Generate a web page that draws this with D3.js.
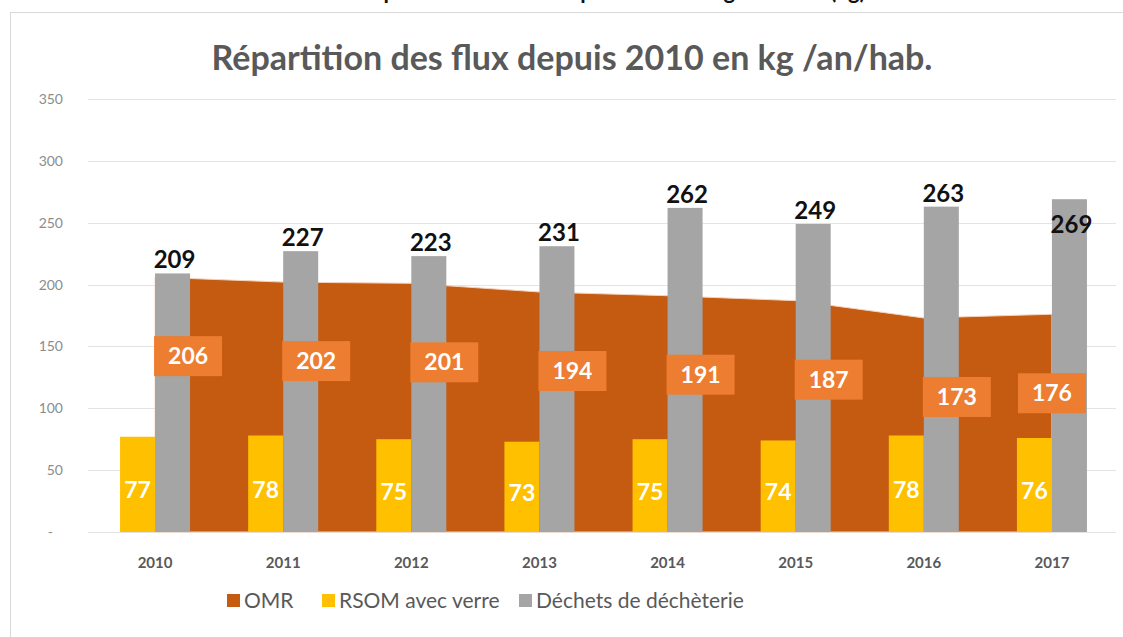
<!DOCTYPE html>
<html>
<head>
<meta charset="utf-8">
<script src="https://cdn.jsdelivr.net/npm/d3@7"></script>
<style>
  body { margin:0; background:#fff; }
  svg { display:block; font-family: Lato, "Open Sans", sans-serif; }
</style>
</head>
<body>
<script>
var years = ["2010","2011","2012","2013","2014","2015","2016","2017"];
var omr = [206,202,201,194,191,187,173,176];
var rsom = [77,78,75,73,75,74,78,76];
var decheterie = [209,227,223,231,262,249,263,269];
var yTicks = [0,50,100,150,200,250,300,350];
var legendNames = ["OMR","RSOM avec verre","Déchets de déchèterie"];

var colors = {omr:"#C55A11", rsom:"#FFC000", dech:"#A5A5A5", omrLabel:"#ED7D31"};

var width = 1123, height = 637;
var plot = {left:91, right:1116, top:99, bottom:532};

var svg = d3.select('body')
            .append('svg')
            .attr('width', width)
            .attr('height', height);

// heading above the chart, cut by the top edge as in the source
svg.append('text')
   .attr('x', 612).attr('y', -1)
   .attr('text-anchor','middle')
   .attr('font-size','22px')
   .attr('font-weight','bold')
   .attr('fill','#111')
   .text('Répartition des flux depuis 2010 en kg /an/hab. (kg)');

// chart frame
svg.append('rect')
   .attr('x',10.5).attr('y',12.5)
   .attr('width',1200).attr('height',700)
   .attr('fill','#fff')
   .attr('stroke','#d9d9d9');

svg.append('text')
   .attr('x', 572).attr('y', 70)
   .attr('text-anchor','middle')
   .attr('font-size','34px')
   .attr('font-weight','bold')
   .attr('fill','#595959')
   .text('Répartition des flux depuis 2010 en kg /an/hab.');

var x = d3.scaleBand()
          .domain(years)
          .range([plot.left, plot.right]);

var x1 = d3.scaleBand()
           .domain(["rsom","dech"])
           .range([0, x.bandwidth()])
           .paddingOuter(0.83);

var y = d3.scaleLinear()
          .domain([0,350])
          .range([plot.bottom, plot.top]);

var center = function(i){ return x(years[i]) + x.bandwidth()/2; };

// grid
svg.append('g')
   .selectAll('line')
   .data(yTicks)
   .enter()
   .append('line')
   .attr('x1', plot.left - 3).attr('x2', plot.right)
   .attr('y1', function(d){ return Math.round(y(d)) + 0.5; })
   .attr('y2', function(d){ return Math.round(y(d)) + 0.5; })
   .attr('stroke', '#e3e3e3');

// y axis labels
var yAxis = d3.axisLeft(y)
              .tickValues(yTicks)
              .tickSize(0)
              .tickPadding(0)
              .tickFormat(function(d){ return d === 0 ? '-' : d; });

var ya = svg.append('g')
   .attr('transform','translate(63,0)')
   .call(yAxis);
ya.select('.domain').remove();
ya.selectAll('text')
  .attr('fill','#8c8c8c')
  .attr('font-size','14px')
  .attr('font-family','Lato, sans-serif')
  .attr('dx', function(d){ return d === 0 ? -10 : 0; });

// OMR area (category centre to centre)
var area = d3.area()
             .x(function(d, i){ return center(i); })
             .y0(y(0))
             .y1(function(d){ return y(d); });

svg.append('path')
   .datum(omr)
   .attr('d', area)
   .attr('fill', colors.omr)
   .attr('stroke', '#f4d3bd')
   .attr('stroke-width', 1);

// bars
svg.append('g')
   .selectAll('rect')
   .data(rsom)
   .enter()
   .append('rect')
   .attr('x', function(d, i){ return x(years[i]) + x1('rsom'); })
   .attr('y', function(d){ return y(d); })
   .attr('width', x1.bandwidth())
   .attr('height', function(d){ return y(0) - y(d); })
   .attr('fill', colors.rsom);

svg.append('g')
   .selectAll('rect')
   .data(decheterie)
   .enter()
   .append('rect')
   .attr('x', function(d, i){ return x(years[i]) + x1('dech'); })
   .attr('y', function(d){ return y(d); })
   .attr('width', x1.bandwidth())
   .attr('height', function(d){ return y(0) - y(d); })
   .attr('fill', colors.dech);

// x axis labels
var xAxis = d3.axisBottom(x).tickSize(0).tickPadding(0);
var xa = svg.append('g')
   .attr('transform','translate(0,' + (plot.bottom + 36) + ')')
   .call(xAxis);
xa.select('.domain').remove();
xa.selectAll('text')
  .attr('fill','#595959')
  .attr('font-size','15px')
  .attr('font-weight','bold')
  .attr('font-family','Lato, sans-serif')
  .attr('dy', 0);

// déchèterie labels
svg.append('g')
   .selectAll('text')
   .data(decheterie)
   .enter()
   .append('text')
   .attr('x', function(d, i){ return x(years[i]) + x1('dech') + x1.bandwidth()/2 + 2; })
   .attr('y', function(d, i){ return i === decheterie.length - 1 ? y(d) + 34 : y(d) - 5; })
   .attr('text-anchor','middle')
   .attr('font-size','24px')
   .attr('font-weight','bold')
   .attr('fill','#111')
   .text(function(d){ return d; });

// RSOM labels
svg.append('g')
   .selectAll('text')
   .data(rsom)
   .enter()
   .append('text')
   .attr('x', function(d, i){ return x(years[i]) + x1('rsom') + x1.bandwidth()/2; })
   .attr('y', function(d){ return y(d/2) + 14; })
   .attr('text-anchor','middle')
   .attr('font-size','23px')
   .attr('font-weight','bold')
   .attr('fill','#fff')
   .text(function(d){ return d; });

// OMR labels in boxes
var lastCenter = center(omr.length - 1);
var omrLab = svg.append('g')
   .selectAll('g')
   .data(omr)
   .enter()
   .append('g')
   .attr('transform', function(d, i){
     var cx = Math.min(center(i) + 33, lastCenter);
     return 'translate(' + cx + ',' + (y(d) + 79) + ')';
   });
omrLab.append('rect')
   .attr('x',-34).attr('y',-20)
   .attr('width',68).attr('height',40)
   .attr('fill', colors.omrLabel);
omrLab.append('text')
   .attr('y', 8)
   .attr('text-anchor','middle')
   .attr('font-size','23px')
   .attr('font-weight','bold')
   .attr('fill','#fff')
   .text(function(d){ return d; });

// legend
var legendColors = [colors.omr, colors.rsom, colors.dech];
var legendX = [227, 322, 519];
var lg = svg.append('g')
   .selectAll('g')
   .data(legendNames)
   .enter()
   .append('g')
   .attr('transform', function(d, i){ return 'translate(' + legendX[i] + ',601)'; });
lg.append('rect')
   .attr('x',0).attr('y',-7)
   .attr('width',13).attr('height',13)
   .attr('fill', function(d, i){ return legendColors[i]; });
lg.append('text')
   .attr('x',17).attr('y',7)
   .attr('font-size','21px')
   .attr('fill','#595959')
   .text(function(d){ return d; });
</script>
</body>
</html>
